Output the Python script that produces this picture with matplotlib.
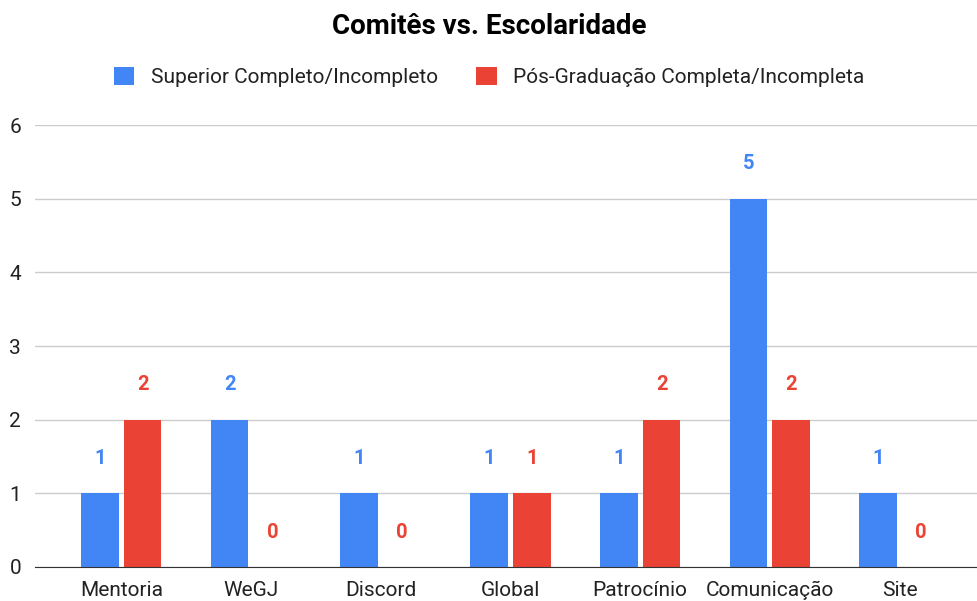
import matplotlib.pyplot as plt
import numpy as np

categorias = ['Mentoria', 'WeGJ', 'Discord', 'Global', 'Patrocínio', 'Comunicação', 'Site']
superior = [1, 2, 1, 1, 1, 5, 1]
pos_grad = [2, 0, 0, 1, 2, 2, 0]
series = ['Superior Completo/Incompleto', 'Pós-Graduação Completa/Incompleta']
yticks = [0, 1, 2, 3, 4, 5, 6]

azul = '#4285F4'
vermelho = '#EA4335'

plt.rcParams['font.family'] = ['Roboto', 'DejaVu Sans']

fig = plt.figure(figsize=(9.78, 6.01), dpi=100)
ax = fig.add_axes([35 / 978, 1 - 567 / 601, (978 - 35) / 978, (567 - 125) / 601])

x = np.arange(len(categorias))
w = 0.29
off = 0.165
b1 = ax.bar(x - off, superior, w, color=azul, label=series[0], zorder=3)
b2 = ax.bar(x + off, pos_grad, w, color=vermelho, label=series[1], zorder=3)

for bars, vals, cor in [(b1, superior, azul), (b2, pos_grad, vermelho)]:
    for b, v in zip(bars, vals):
        ax.annotate(str(v), (b.get_x() + b.get_width() / 2, v), xytext=(0, 25),
                    textcoords='offset points', ha='center', va='center',
                    color=cor, fontsize=14.5, fontweight='bold')

ax.set_ylim(0, 6)
ax.set_xlim(-0.665, 6.605)
ax.set_yticks(yticks)
ax.set_xticks(x)
ax.set_xticklabels(categorias)
ax.tick_params(axis='both', length=0, labelsize=15, colors='#222222')
ax.tick_params(axis='y', pad=10)
ax.tick_params(axis='x', pad=10)
ax.grid(axis='y', color='#cccccc', linewidth=1, zorder=0)
for s in ['top', 'right', 'left']:
    ax.spines[s].set_visible(False)
ax.spines['bottom'].set_color('#333333')
ax.spines['bottom'].set_zorder(4)

fig.text(0.5, 1 - 27 / 601, 'Comitês vs. Escolaridade', ha='center', va='center',
         fontsize=20, fontweight='bold', color='#000000')
fig.legend(loc='center', bbox_to_anchor=(0.5, 1 - 77 / 601), ncol=2, frameon=False,
           fontsize=15, handlelength=1.0, handleheight=1.0, columnspacing=1.8,
           handletextpad=0.8, labelcolor='#222222')

fig.savefig('out.png', dpi=100)
